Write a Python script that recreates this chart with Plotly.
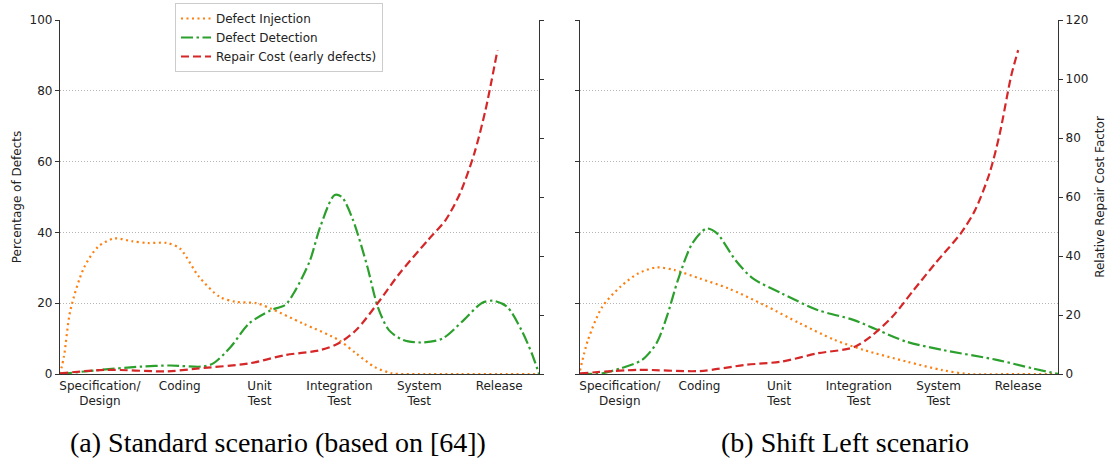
import plotly.graph_objects as go

# ---------------- data ----------------
stages = ["Specification/<br>Design", "Coding", "Unit<br>Test", "Integration<br>Test", "System<br>Test", "Release"]
stage_pos = [0.5, 1.5, 2.5, 3.5, 4.5, 5.5]

# (a) Standard scenario
inj_a_x = [0, 0.05, 0.13, 0.3, 0.48, 0.68, 0.9, 1.1, 1.34, 1.5, 1.74, 2.0, 2.2, 2.46, 2.64, 3.04, 3.49, 3.71, 3.94, 4.16, 4.5, 5.0, 5.5, 6.0]
inj_a_y = [0, 5, 18, 30, 36, 38.3, 37.5, 37, 37, 35.5, 27.5, 21.8, 20.4, 20, 18.5, 14.3, 9.6, 5.8, 2, 0.2, 0, 0, 0, 0]

det_a_x = [0, 0.48, 1.02, 1.38, 1.78, 1.92, 2.14, 2.37, 2.64, 2.82, 2.95, 3.13, 3.26, 3.44, 3.53, 3.67, 3.85, 3.98, 4.12, 4.3, 4.52, 4.79, 5.06, 5.28, 5.42, 5.6, 5.78, 5.91, 6.0]
det_a_y = [0, 1.1, 2.1, 2.4, 2.1, 3, 7.7, 14.3, 18, 19.5, 23.7, 32, 41.6, 50.6, 50, 43.5, 30.3, 19, 12.4, 9.6, 8.9, 10, 15.3, 20, 20.7, 19, 12.4, 5.8, 0]

cost_a_x = [0, 0.57, 1.34, 1.74, 2.37, 2.82, 3.26, 3.49, 3.71, 3.98, 4.25, 4.61, 4.83, 5.01, 5.19, 5.33, 5.48]
cost_a_y = [0.2, 1.4, 0.9, 1.9, 3.6, 6.4, 8.1, 10.4, 14.9, 24, 34, 45.4, 52.2, 61.2, 74.8, 89.5, 109.8]

# (b) Shift Left scenario
inj_b_x = [0, 0.1, 0.28, 0.51, 0.73, 0.96, 1.18, 1.5, 1.86, 2.31, 2.76, 3.2, 3.56, 4.1, 4.55, 4.87, 5.5, 6.0]
inj_b_y = [1, 9.6, 19, 24.7, 28.4, 30.1, 29.4, 27, 24.2, 19.5, 14.3, 9.6, 6.8, 3.5, 1.1, 0, 0, 0]

det_b_x = [0, 0.28, 0.51, 0.78, 0.96, 1.09, 1.23, 1.41, 1.59, 1.72, 1.95, 2.17, 2.53, 2.98, 3.43, 3.74, 4.1, 4.55, 5.23, 5.68, 6.0]
det_b_y = [0, 0.2, 1.6, 4, 8.7, 16.2, 26.6, 36.9, 41.1, 39.7, 32.2, 27, 22.8, 18.1, 15.3, 12.4, 9.1, 6.8, 4, 1.6, 0]

cost_b_x = [0, 0.73, 1.5, 2.08, 2.53, 2.98, 3.43, 3.65, 3.92, 4.19, 4.46, 4.78, 4.96, 5.14, 5.27, 5.41, 5.5]
cost_b_y = [0.2, 1.4, 1.0, 3.1, 4.2, 7.0, 9.0, 12.7, 19.4, 28.5, 37.5, 47.7, 55.6, 68, 81.6, 100.8, 109.8]

names = ["Defect Injection", "Defect Detection", "Repair Cost (early defects)"]
colors = ["#ff7f0e", "#2ca02c", "#d62728"]
dashes = ["2px,3.5px", "12px,3.5px,2.5px,3.5px", "8px,4px"]

W, H = 1109, 459
font_sans = "DejaVu Sans"

fig = go.Figure()

def add(x, y, i, xa, ya, show):
    fig.add_trace(go.Scatter(
        x=x, y=y, mode="lines", name=names[i], showlegend=show,
        line=dict(color=colors[i], dash=dashes[i], width=2.2, shape="spline", smoothing=0.8),
        xaxis=xa, yaxis=ya))

add(inj_a_x, inj_a_y, 0, "x", "y", True)
add(det_a_x, det_a_y, 1, "x", "y", True)
add(cost_a_x, cost_a_y, 2, "x", "y2", True)
add(inj_b_x, inj_b_y, 0, "x2", "y3", False)
add(det_b_x, det_b_y, 1, "x2", "y3", False)
add(cost_b_x, cost_b_y, 2, "x2", "y4", False)

dom1 = [60 / W, 539 / W]
dom2 = [580 / W, 1058 / W]
ydom = [1 - 374 / H, 1 - 20 / H]

axcol = "#333333"
tickfont = dict(family=font_sans, size=12, color="#222")
xcommon = dict(range=[0, 6], tickvals=stage_pos, ticktext=stages, showline=True, linecolor=axcol,
               linewidth=1.2, showgrid=False, zeroline=False, ticks="", tickfont=tickfont, automargin=False)
yleft = dict(range=[0, 100], tickvals=[0, 20, 40, 60, 80, 100], showline=True, linecolor=axcol,
             linewidth=1.2, showgrid=True, gridcolor="#b4b4b4", griddash="1px,2px", gridwidth=1,
             zeroline=False, ticks="outside", ticklen=4, tickcolor=axcol, tickfont=tickfont, domain=ydom,
             automargin=False)
yright = dict(range=[0, 120], tickvals=[0, 20, 40, 60, 80, 100, 120], showline=True, linecolor=axcol,
              linewidth=1.2, showgrid=False, zeroline=False, ticks="outside", ticklen=4, tickcolor=axcol,
              tickfont=tickfont, side="right", automargin=False)

fig.update_layout(
    width=W, height=H, margin=dict(l=0, r=0, t=0, b=0, autoexpand=False),
    paper_bgcolor="white", plot_bgcolor="white",
    font=dict(family=font_sans, size=12, color="#222"),
    xaxis=dict(domain=dom1, anchor="y", **xcommon),
    xaxis2=dict(domain=dom2, anchor="y3", **xcommon),
    yaxis=dict(anchor="x", title=dict(text="Percentage of Defects", font=dict(size=12), standoff=5), **yleft),
    yaxis2=dict(anchor="x", overlaying="y", showticklabels=False, **yright),
    yaxis3=dict(anchor="x2", showticklabels=False, **yleft),
    yaxis4=dict(anchor="x2", overlaying="y3", showticklabels=True,
                title=dict(text="Relative Repair Cost Factor", font=dict(size=12), standoff=8), **yright),
    legend=dict(x=175 / W, y=1 - 3 / H, xanchor="left", yanchor="top", bgcolor="white",
                bordercolor="#cccccc", borderwidth=1, font=dict(size=12, family=font_sans),
                itemwidth=30, tracegroupgap=0),
    annotations=[
        dict(text="(a) Standard scenario (based on [64])", x=277.5 / W, y=1 - 442 / H,
             xref="paper", yref="paper", showarrow=False, xanchor="center", yanchor="middle",
             font=dict(family="Liberation Serif", size=28, color="black")),
        dict(text="(b) Shift Left scenario", x=845 / W, y=1 - 442 / H,
             xref="paper", yref="paper", showarrow=False, xanchor="center", yanchor="middle",
             font=dict(family="Liberation Serif", size=28, color="black")),
    ],
)

fig.write_html("out.html", config={"displayModeBar": False},
               post_script="document.body.style.margin='0';document.body.style.padding='0';")
